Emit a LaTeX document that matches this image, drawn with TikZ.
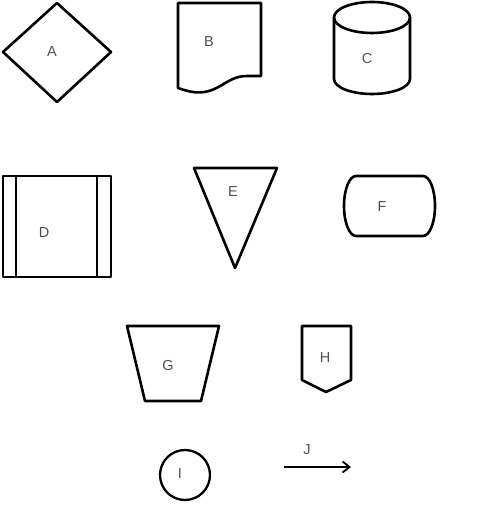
\documentclass[tikz,border=0pt]{standalone}
\usepackage{fontspec}
\setmainfont{Liberation Sans}
\usetikzlibrary{arrows.meta}
\definecolor{txt}{RGB}{80,80,80}
\begin{document}
\begin{tikzpicture}[x=1pt,y=-1pt,
  shp/.style={draw=black,line width=2.6pt,line join=round},
  lbl/.style={text=txt,font=\fontsize{14.5}{14.5}\selectfont,inner sep=0pt}]
\useasboundingbox (0,0) rectangle (483,518);
% A diamond
\draw[shp] (3,52) -- (57,3) -- (111,52) -- (57,102) -- cycle;
\node[lbl] (A) at (52,52) {A};
% B document
\draw[shp] (178,88) -- (178,3) -- (261,3) -- (261,76) -- (247,76)
  .. controls (237,76) and (230,80) .. (222,85)
  .. controls (210,92) and (200,96) .. (178,88) -- cycle;
\node[lbl] (B) at (209,42) {B};
% C cylinder
\draw[shp] (372,17.5) ellipse [x radius=38,y radius=15.5];
\draw[shp] (334,17.5) -- (334,79) arc[start angle=180,end angle=0,x radius=38,y radius=15] -- (410,17.5);
\node[lbl] (C) at (367,59) {C};
% D predefined process
\draw[shp] (3,176) rectangle (111,277);
\draw[shp] (16,176) -- (16,277);
\draw[shp] (97,176) -- (97,277);
\node[lbl] (D) at (44,233) {D};
% E triangle
\draw[shp] (194,168) -- (277,168) -- (235,268) -- cycle;
\node[lbl] (E) at (233,192) {E};
% F terminator
\draw[shp] (356,176) -- (423,176)
  arc[start angle=-90,end angle=90,x radius=12,y radius=30] -- (356,236)
  arc[start angle=90,end angle=270,x radius=12,y radius=30] -- cycle;
\node[lbl] (F) at (382,207) {F};
% G trapezoid
\draw[shp] (127,326) -- (219,326) -- (201,401) -- (145,401) -- cycle;
\node[lbl] (G) at (168,366) {G};
% H off-page
\draw[shp] (302,326) -- (351,326) -- (351,380) -- (326,392) -- (302,380) -- cycle;
\node[lbl] (H) at (325,358) {H};
% I circle
\draw[shp,line width=2.3pt] (185,475) circle [radius=25];
\node[lbl] (I) at (180,474) {I};
% J arrow
\coordinate (j1) at (284,467);
\coordinate (j2) at (351,467);
\draw[line width=1.8pt,-{Straight Barb[length=7pt,width=11pt,line width=1.8pt]}] (j1) -- (j2);
\node[lbl] (J) at (307,450) {J};
\end{tikzpicture}
\end{document}
